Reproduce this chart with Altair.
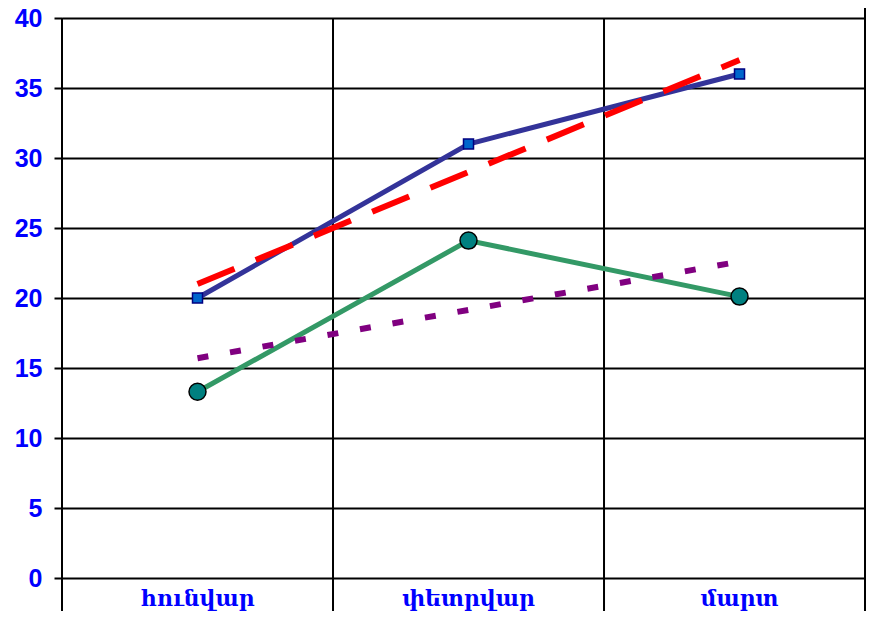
import altair as alt
import pandas as pd

months = ["հունվար", "փետրվար", "մարտ"]
series_a = [20, 31, 36]
series_b = [13.3, 24.1, 20.1]
trend_a = [21, 29, 37]
trend_b = [15.7, 19.15, 22.6]
y_ticks = [0, 5, 10, 15, 20, 25, 30, 35, 40]

idx = list(range(len(months)))
df = pd.DataFrame({"i": idx, "month": months, "a": series_a, "b": series_b,
                   "ta": trend_a, "tb": trend_b})
bounds = pd.DataFrame({"bx": [k - 0.5 for k in idx]})

W, H = 803, 560
xs = alt.Scale(domain=[-0.5, 2.463], nice=False, zero=False)
ys = alt.Scale(domain=[0, 40], nice=False)

base = alt.Chart(df)

yaxis = alt.Axis(values=y_ticks, grid=True, domain=False, title=None)

grid = base.mark_point(opacity=0).encode(
    x=alt.X("i:Q", scale=xs, axis=None),
    y=alt.Y("a:Q", scale=ys, axis=yaxis),
)

dividers = alt.Chart(bounds).mark_rule(color="black", strokeWidth=2).encode(
    x=alt.X("bx:Q", scale=xs),
    y=alt.value(0), y2=alt.value(H + 33),
)
right_border = alt.Chart(bounds).mark_rule(color="black", strokeWidth=2).encode(
    x=alt.value(W), y=alt.value(-20), y2=alt.value(H + 33),
)

line_a = base.mark_line(color="#333399", strokeWidth=5).encode(
    x=alt.X("i:Q", scale=xs), y=alt.Y("a:Q", scale=ys))
line_b = base.mark_line(color="#339966", strokeWidth=5).encode(
    x=alt.X("i:Q", scale=xs), y=alt.Y("b:Q", scale=ys))
pts_a = base.mark_square(size=100, color="#0066CC", stroke="#000080",
                         strokeWidth=1.5, opacity=1).encode(
    x=alt.X("i:Q", scale=xs), y=alt.Y("a:Q", scale=ys))
pts_b = base.mark_circle(size=289, color="#008080", stroke="black",
                         strokeWidth=1.5, opacity=1).encode(
    x=alt.X("i:Q", scale=xs), y=alt.Y("b:Q", scale=ys))
tr_a = base.mark_line(color="#FF0000", strokeWidth=6, strokeDash=[40, 23]).encode(
    x=alt.X("i:Q", scale=xs), y=alt.Y("ta:Q", scale=ys))
tr_b = base.mark_line(color="#800080", strokeWidth=6, strokeDash=[11, 22]).encode(
    x=alt.X("i:Q", scale=xs), y=alt.Y("tb:Q", scale=ys))

labels = base.mark_text(font="DejaVu Serif", fontSize=22, fontWeight="bold",
                        color="#0000FF", baseline="middle", align="center").encode(
    x=alt.X("i:Q", scale=xs), y=alt.value(H + 21), text="month:N")

chart = alt.layer(grid, dividers, right_border, line_a, line_b, tr_a, tr_b,
                  pts_a, pts_b, labels).properties(
    width=W, height=H,
    autosize=alt.AutoSizeParams(type="none"),
    padding={"left": 54, "top": 10, "right": 2, "bottom": 33},
).configure_view(stroke=None).configure_axis(
    labelFont="Liberation Sans", labelFontWeight="bold", labelFontSize=25,
    labelColor="#0000FF", labelPadding=12,
    tickColor="black", tickWidth=2, tickSize=8,
    gridColor="black", gridWidth=2, gridOpacity=1,
)

chart.save("out.html", embed_options={"renderer": "svg", "actions": False})
